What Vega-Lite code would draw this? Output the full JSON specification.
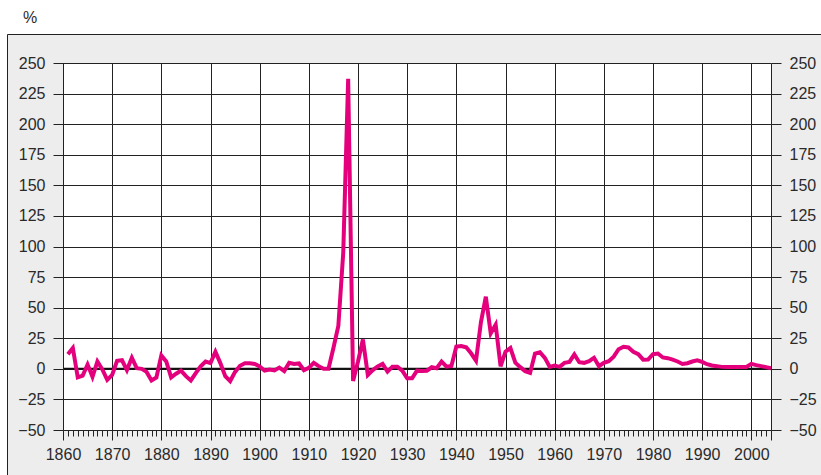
{
  "$schema": "https://vega.github.io/schema/vega-lite/v6.json",
  "width": 708,
  "height": 367,
  "autosize": "none",
  "padding": {"left": 63, "top": 63, "right": 50, "bottom": 45},
  "background": "white",
  "config": {
    "view": {"stroke": "#222", "fill": "white"},
    "axis": {
      "labelFont": "Liberation Sans",
      "labelFontSize": 16,
      "labelColor": "#2a2a2a",
      "tickColor": "#222",
      "domainColor": "#222",
      "gridColor": "#222",
      "gridOpacity": 1,
      "titleFont": "Liberation Sans",
      "titleFontSize": 16,
      "titleFontWeight": "normal",
      "titleColor": "#2a2a2a"
    }
  },
  "data": {"values": [
    {"year":1861,"value":12},{"year":1862,"value":17},{"year":1863,"value":-7},{"year":1864,"value":-5.5},{"year":1865,"value":3.5},
    {"year":1866,"value":-6.5},{"year":1867,"value":6},{"year":1868,"value":-0.5},{"year":1869,"value":-9},{"year":1870,"value":-5},
    {"year":1871,"value":6.5},{"year":1872,"value":7},{"year":1873,"value":-1},{"year":1874,"value":9},{"year":1875,"value":0.5},
    {"year":1876,"value":0},{"year":1877,"value":-2.5},{"year":1878,"value":-9.5},{"year":1879,"value":-7},{"year":1880,"value":11},
    {"year":1881,"value":6},{"year":1882,"value":-7},{"year":1883,"value":-4},{"year":1884,"value":-1.5},{"year":1885,"value":-6},
    {"year":1886,"value":-9.5},{"year":1887,"value":-3.5},{"year":1888,"value":2},{"year":1889,"value":6},{"year":1890,"value":4.7},
    {"year":1891,"value":14},{"year":1892,"value":4.7},{"year":1893,"value":-6},{"year":1894,"value":-10},{"year":1895,"value":-2.5},
    {"year":1896,"value":2.5},{"year":1897,"value":4.5},{"year":1898,"value":4.5},{"year":1899,"value":4},{"year":1900,"value":2},
    {"year":1901,"value":-1.5},{"year":1902,"value":-0.5},{"year":1903,"value":-1.3},{"year":1904,"value":1},{"year":1905,"value":-1.8},
    {"year":1906,"value":5},{"year":1907,"value":4},{"year":1908,"value":4.4},{"year":1909,"value":-1.1},{"year":1910,"value":0.8},
    {"year":1911,"value":4.9},{"year":1912,"value":2.2},{"year":1913,"value":0},{"year":1914,"value":0},{"year":1915,"value":17},
    {"year":1916,"value":35},{"year":1917,"value":95},{"year":1918,"value":237},{"year":1919,"value":-10},{"year":1920,"value":6},
    {"year":1921,"value":24},{"year":1922,"value":-5},{"year":1923,"value":-1},{"year":1924,"value":2},{"year":1925,"value":4},
    {"year":1926,"value":-2.3},{"year":1927,"value":1.8},{"year":1928,"value":1.8},{"year":1929,"value":-1.5},{"year":1930,"value":-7.7},
    {"year":1931,"value":-7.7},{"year":1932,"value":-1.5},{"year":1933,"value":-1.7},{"year":1934,"value":-1.5},{"year":1935,"value":1.3},
    {"year":1936,"value":0.5},{"year":1937,"value":5.9},{"year":1938,"value":1.8},{"year":1939,"value":2.3},{"year":1940,"value":18.2},
    {"year":1941,"value":18.7},{"year":1942,"value":17.6},{"year":1943,"value":12.7},{"year":1944,"value":6.7},{"year":1945,"value":38},
    {"year":1946,"value":59},{"year":1947,"value":29},{"year":1948,"value":36},{"year":1949,"value":2},{"year":1950,"value":14},
    {"year":1951,"value":17},{"year":1952,"value":5},{"year":1953,"value":1.4},{"year":1954,"value":-1.9},{"year":1955,"value":-3.3},
    {"year":1956,"value":12.5},{"year":1957,"value":13.6},{"year":1958,"value":9},{"year":1959,"value":1.6},{"year":1960,"value":2.7},
    {"year":1961,"value":1.6},{"year":1962,"value":4.9},{"year":1963,"value":5.7},{"year":1964,"value":11.7},{"year":1965,"value":5.4},
    {"year":1966,"value":4.9},{"year":1967,"value":6.3},{"year":1968,"value":9},{"year":1969,"value":2.2},{"year":1970,"value":4.9},
    {"year":1971,"value":6.3},{"year":1972,"value":10},{"year":1973,"value":16},{"year":1974,"value":18},{"year":1975,"value":17.5},
    {"year":1976,"value":14},{"year":1977,"value":12},{"year":1978,"value":7.5},{"year":1979,"value":7.6},{"year":1980,"value":12},
    {"year":1981,"value":12.5},{"year":1982,"value":9.3},{"year":1983,"value":8.7},{"year":1984,"value":7.6},{"year":1985,"value":6},
    {"year":1986,"value":4},{"year":1987,"value":4.6},{"year":1988,"value":6},{"year":1989,"value":7},{"year":1990,"value":5.7},
    {"year":1991,"value":3.8},{"year":1992,"value":2.7},{"year":1993,"value":2.2},{"year":1994,"value":1.6},{"year":1995,"value":1.4},
    {"year":1996,"value":1.4},{"year":1997,"value":1.4},{"year":1998,"value":1.6},{"year":1999,"value":1.6},{"year":2000,"value":4.1},
    {"year":2001,"value":3},{"year":2002,"value":2.2},{"year":2003,"value":1.4},{"year":2004,"value":0.5}
  ]},
  "layer": [
    {
      "data": {"values": [{}]},
      "mark": {"type": "rect", "fill": "#ededed", "strokeWidth": 0},
      "encoding": {
        "x": {"datum": 1848.712, "type": "quantitative", "scale": {"domain": [1860, 2004], "nice": false, "zero": false}, "axis": null},
        "x2": {"datum": 1860},
        "y": {"datum": -92, "type": "quantitative", "scale": {"domain": [-50, 250], "nice": false, "zero": false},
              "axis": {"orient": "left", "values": [-50,-25,0,25,50,75,100,125,150,175,200,225,250], "tickSize": 10, "labelPadding": 8,
                       "grid": false, "domain": true, "zindex": 1,
                       "title": "%", "titleAngle": 0, "titleX": -33.5, "titleY": -41, "titleAlign": "center", "titleBaseline": "alphabetic"}},
        "y2": {"datum": 273.297}
      }
    },
    {
      "data": {"values": [{}]},
      "mark": {"type": "rect", "fill": "#ededed", "strokeWidth": 0},
      "encoding": {
        "x": {"datum": 2004, "type": "quantitative", "scale": {"domain": [1860, 2004], "nice": false, "zero": false}, "axis": null},
        "x2": {"datum": 2016},
        "y": {"datum": -92, "type": "quantitative", "scale": {"domain": [-50, 250], "nice": false, "zero": false},
              "axis": {"orient": "right", "values": [-50,-25,0,25,50,75,100,125,150,175,200,225,250], "tickSize": 10, "labelPadding": 8,
                       "grid": false, "domain": true, "zindex": 1, "title": null}},
        "y2": {"datum": 273.297}
      }
    },
    {
      "data": {"values": [{}]},
      "mark": {"type": "rect", "fill": "#ededed", "strokeWidth": 0},
      "encoding": {
        "x": {"datum": 1860, "type": "quantitative", "scale": {"domain": [1860, 2004], "nice": false, "zero": false},
              "axis": {"orient": "top", "labels": false, "ticks": false, "grid": false, "domain": true, "zindex": 1, "title": null}},
        "x2": {"datum": 2004},
        "y": {"datum": 250, "type": "quantitative", "scale": {"domain": [-50, 250], "nice": false, "zero": false}, "axis": null},
        "y2": {"datum": 273.297}
      }
    },
    {
      "data": {"values": [{}]},
      "mark": {"type": "rect", "fill": "#ededed", "strokeWidth": 0},
      "encoding": {
        "x": {"datum": 1860, "type": "quantitative", "scale": {"domain": [1860, 2004], "nice": false, "zero": false},
              "axis": {"orient": "bottom",
                       "values": [1860,1861,1862,1863,1864,1865,1866,1867,1868,1869,1870,1871,1872,1873,1874,1875,1876,1877,1878,1879,1880,1881,1882,1883,1884,1885,1886,1887,1888,1889,1890,1891,1892,1893,1894,1895,1896,1897,1898,1899,1900,1901,1902,1903,1904,1905,1906,1907,1908,1909,1910,1911,1912,1913,1914,1915,1916,1917,1918,1919,1920,1921,1922,1923,1924,1925,1926,1927,1928,1929,1930,1931,1932,1933,1934,1935,1936,1937,1938,1939,1940,1941,1942,1943,1944,1945,1946,1947,1948,1949,1950,1951,1952,1953,1954,1955,1956,1957,1958,1959,1960,1961,1962,1963,1964,1965,1966,1967,1968,1969,1970,1971,1972,1973,1974,1975,1976,1977,1978,1979,1980,1981,1982,1983,1984,1985,1986,1987,1988,1989,1990,1991,1992,1993,1994,1995,1996,1997,1998,1999,2000,2001,2002,2003,2004],
                       "tickSize": {"condition": {"test": "datum.value % 10 === 0 || datum.value === 2004", "value": 10}, "value": 6},
                       "labelExpr": "datum.value % 10 === 0 ? datum.label : ''",
                       "format": "d",
                       "labelFlush": false, "labelOverlap": false, "labelPadding": 6,
                       "grid": false, "domain": true, "zindex": 1, "title": null}},
        "x2": {"datum": 2004},
        "y": {"datum": -92, "type": "quantitative", "scale": {"domain": [-50, 250], "nice": false, "zero": false}, "axis": null},
        "y2": {"datum": -50}
      }
    },
    {
      "data": {"values": [{}]},
      "mark": {"type": "rect", "filled": false, "stroke": "#222", "strokeWidth": 1},
      "encoding": {
        "x": {"datum": 1848.712, "type": "quantitative", "scale": {"domain": [1860, 2004], "nice": false, "zero": false}, "axis": null},
        "x2": {"datum": 2020},
        "y": {"datum": -100, "type": "quantitative", "scale": {"domain": [-50, 250], "nice": false, "zero": false}, "axis": null},
        "y2": {"datum": 273.297}
      }
    },
    {
      "data": {"values": [{}]},
      "mark": {"type": "rule", "color": "#111", "strokeWidth": 2},
      "encoding": {
        "y": {"datum": 0, "type": "quantitative", "scale": {"domain": [-50, 250], "nice": false, "zero": false}, "axis": null}
      }
    },
    {
      "mark": {"type": "line", "color": "#e4007c", "strokeWidth": 4},
      "encoding": {
        "x": {"field": "year", "type": "quantitative", "scale": {"domain": [1860, 2004], "nice": false, "zero": false},
              "axis": {"orient": "bottom", "grid": true, "values": [1860,1870,1880,1890,1900,1910,1920,1930,1940,1950,1960,1970,1980,1990,2000,2004],
                       "labels": false, "ticks": false, "domain": false, "title": null, "zindex": 0}},
        "y": {"field": "value", "type": "quantitative", "scale": {"domain": [-50, 250], "nice": false, "zero": false},
              "axis": {"orient": "left", "grid": true, "values": [-50,-25,0,25,50,75,100,125,150,175,200,225,250],
                       "labels": false, "ticks": false, "domain": false, "title": null, "zindex": 0}}
      }
    }
  ],
  "resolve": {"axis": {"x": "independent", "y": "independent"}}
}
